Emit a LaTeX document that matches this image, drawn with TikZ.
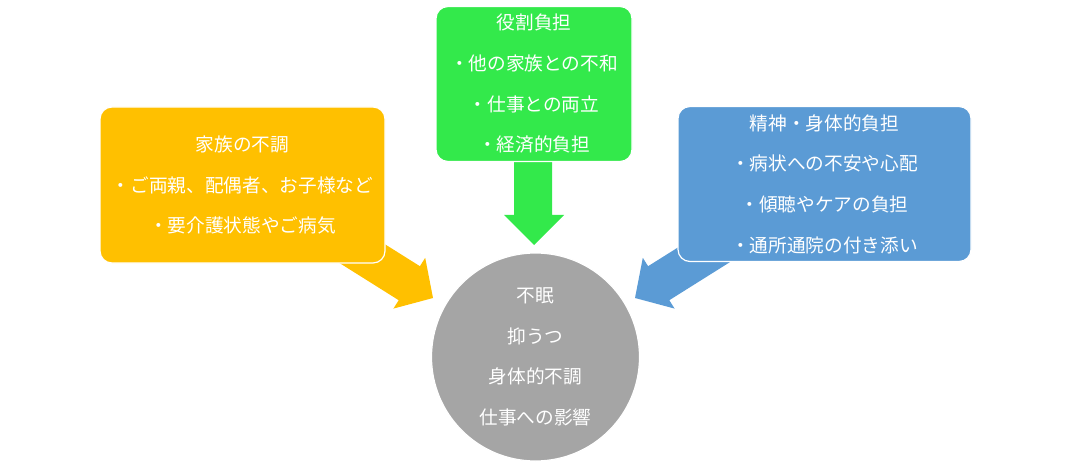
\documentclass[tikz,border=0pt]{standalone}
\usepackage{fontspec}
\setmainfont{Noto Sans CJK JP}
\definecolor{cOrange}{HTML}{FFC000}
\definecolor{cGreen}{HTML}{33E94B}
\definecolor{cBlue}{HTML}{5B9BD5}
\definecolor{cGray}{HTML}{A5A5A5}
\tikzset{
  box/.style={rectangle, rounded corners=9pt, draw=white, line width=0.9pt,
    inner sep=0pt, align=center, text=white,
    font=\fontsize{14}{30.5}\selectfont},
  flowarrow/.style={draw=none},
}
\begin{document}
\begin{tikzpicture}[x=0.75pt,y=-0.75pt]
\useasboundingbox (0,0) rectangle (1073,463);
% arrows (behind the boxes)
\fill[cGreen] (514,150) -- (514,215) -- (504,215) -- (534,245) -- (564,215) -- (552,215) -- (552,150) -- cycle;
\fill[cOrange] (333.6,212) -- (419.9,266.2) -- (425.2,257.8) -- (433,298) -- (393.4,308.6) -- (398.7,300.2) -- (312.4,246) -- cycle;
\fill[cBlue] (734.4,212) -- (648.1,266.2) -- (642.8,257.8) -- (635,298) -- (674.6,308.6) -- (669.3,300.2) -- (755.6,246) -- cycle;
% boxes
\node[box, fill=cOrange, minimum width=213.75pt, minimum height=117pt] (family) at (242.5,185)
  {家族の不調\\・ご両親、配偶者、お子様など\\・要介護状態やご病気};
\node[box, fill=cGreen, minimum width=147pt, minimum height=116.25pt] (role) at (534,84)
  {役割負担\\・他の家族との不和\\・仕事との両立\\・経済的負担};
\node[box, fill=cBlue, minimum width=219.75pt, minimum height=116.25pt] (mind) at (824.5,184)
  {精神・身体的負担\\・病状への不安や心配\\・傾聴やケアの負担\\・通所通院の付き添い};
\node[box, circle, fill=cGray, minimum size=156pt] (effect) at (535.5,357)
  {不眠\\抑うつ\\身体的不調\\仕事への影響};
\end{tikzpicture}
\end{document}
